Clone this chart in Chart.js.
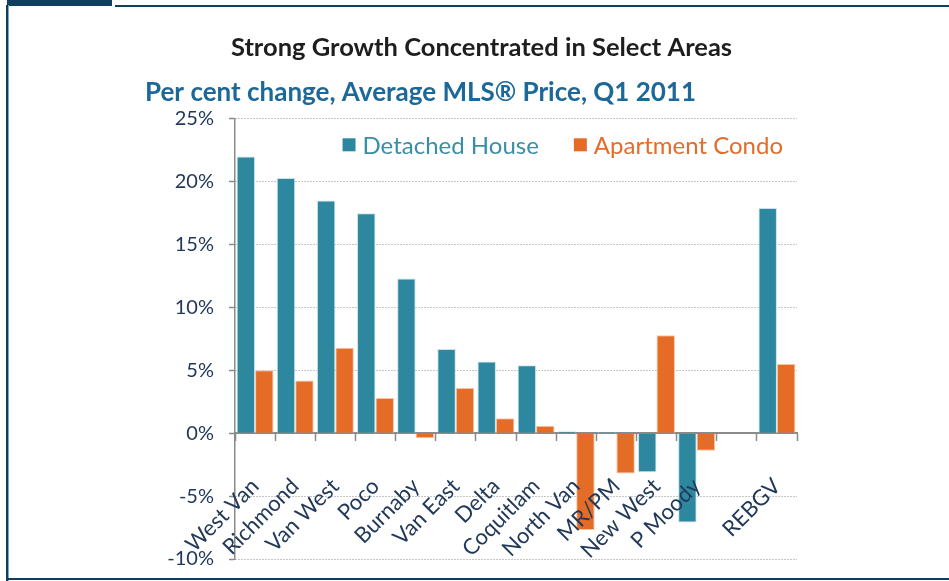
<!DOCTYPE html>
<html>
<head>
<meta charset="utf-8">
<script src="https://cdn.jsdelivr.net/npm/chart.js@4/dist/chart.umd.min.js"></script>
<style>
  html, body { margin: 0; padding: 0; background: #fff; }
  #page { position: relative; width: 949px; height: 581px; overflow: hidden; }
  .bar { position: absolute; background: #0e3f5f; }
  #wrap { position: absolute; left: 145px; top: 0; width: 673px; height: 586px; }
</style>
</head>
<body>
<div id="page">
  <div class="bar" style="left:7px;top:0;width:105px;height:6px"></div>
  <div class="bar" style="left:115px;top:5px;width:834px;height:2px"></div>
  <div class="bar" style="left:6px;top:5px;width:2px;height:576px"></div>
  <div class="bar" style="left:8px;top:5px;width:1px;height:576px;background:#7fa6c2"></div>
  <div class="bar" style="left:6px;top:578px;width:943px;height:2px"></div>
  <div id="wrap"><canvas id="chart"></canvas></div>
</div>
<script>
const areas = ['West Van', 'Richmond', 'Van West', 'Poco', 'Burnaby', 'Van East', 'Delta',
  'Coquitlam', 'North Van', 'MR/PM', 'New West', 'P Moody', '', 'REBGV'];
const detached = [22.0, 20.3, 18.5, 17.5, 12.3, 6.7, 5.7, 5.4, 0.15, 0.12, -3.1, -7.1, null, 17.9];
const condo = [5.0, 4.2, 6.8, 2.8, -0.4, 3.6, 1.2, 0.6, -7.7, -3.2, 7.8, -1.4, null, 5.5];
const yTicks = [-10, -5, 0, 5, 10, 15, 20, 25];

const navy = '#22395a';
const tealBar = '#2d879e';
const orangeBar = '#e46c26';

// legend drawn inside the plot area, top right
const innerLegend = {
  id: 'innerLegend',
  afterDatasetsDraw(chart) {
    const { ctx, chartArea } = chart;
    const box = 13, gap = 7, spacing = 35;
    ctx.save();
    ctx.font = '24px Lato';
    ctx.textBaseline = 'middle';
    const items = chart.data.datasets.map(ds => ({ ds, w: ctx.measureText(ds.label).width }));
    const total = items.reduce((s, it) => s + box + gap + it.w, 0) + spacing * (items.length - 1);
    let x = chartArea.right - 14 - total;
    const y = chartArea.top + 26;
    items.forEach(({ ds, w }) => {
      ctx.fillStyle = ds.backgroundColor;
      ctx.fillRect(x, y - box / 2, box, box);
      x += box + gap;
      ctx.fillStyle = ds.legendColor;
      ctx.fillText(ds.label, x, y + 1);
      x += w + spacing;
    });
    ctx.restore();
  },
};

new Chart(document.getElementById('chart'), {
  type: 'bar',
  data: {
    labels: areas,
    datasets: [
      { label: 'Detached House', data: detached, backgroundColor: tealBar,
        borderColor: '#c9e2ea', borderWidth: 1, legendColor: '#3a8fa6' },
      { label: 'Apartment Condo', data: condo, backgroundColor: orangeBar,
        borderColor: '#f5c6a6', borderWidth: 1, legendColor: '#e46c28' },
    ],
  },
  plugins: [innerLegend],
  options: {
    responsive: true,
    maintainAspectRatio: false,
    animation: false,
    layout: { padding: 0 },
    datasets: { bar: { categoryPercentage: 0.92, barPercentage: 1.0 } },
    plugins: {
      title: {
        display: true,
        text: 'Strong Growth Concentrated in Select Areas',
        color: '#1e1e1e',
        font: { family: 'Lato', size: 25.5, weight: 'bold' },
        padding: { top: 32, bottom: 14 },
      },
      subtitle: {
        display: true,
        text: 'Per cent change, Average MLS® Price, Q1 2011',
        align: 'start',
        color: '#1c6898',
        font: { family: 'Lato', size: 26, weight: 'bold' },
        padding: { top: 0, bottom: 11 },
      },
      legend: { display: false },
      tooltip: { enabled: false },
    },
    scales: {
      x: {
        position: { y: 0 },
        afterFit: (scale) => { scale.paddingLeft = 0; scale.paddingRight = 21; },
        grid: { offset: true, drawOnChartArea: false, drawTicks: true, tickLength: 7, tickColor: '#8a8a8a', tickWidth: 1.5 },
        border: { color: '#8a8a8a', width: 2 },
        ticks: {
          z: 1, // category labels sit on top of the bars
          autoSkip: false,
          maxRotation: 45,
          minRotation: 45,
          padding: 33,
          color: navy,
          font: { family: 'Lato', size: 22 },
        },
      },
      y: {
        min: -10,
        max: 25,
        afterFit: (scale) => { scale.width = 90; },
        afterBuildTicks: (scale) => { scale.ticks = yTicks.map(v => ({ value: v })); },
        grid: { color: '#8c8c8c', tickLength: 6, tickColor: '#8a8a8a', tickWidth: 1.5 },
        border: { color: '#8a8a8a', width: 1.5, dash: [1, 2] },
        ticks: {
          padding: 15,
          color: navy,
          font: { family: 'Lato', size: 20 },
          callback: (v) => v + '%',
        },
      },
    },
  },
});
</script>
</body>
</html>
